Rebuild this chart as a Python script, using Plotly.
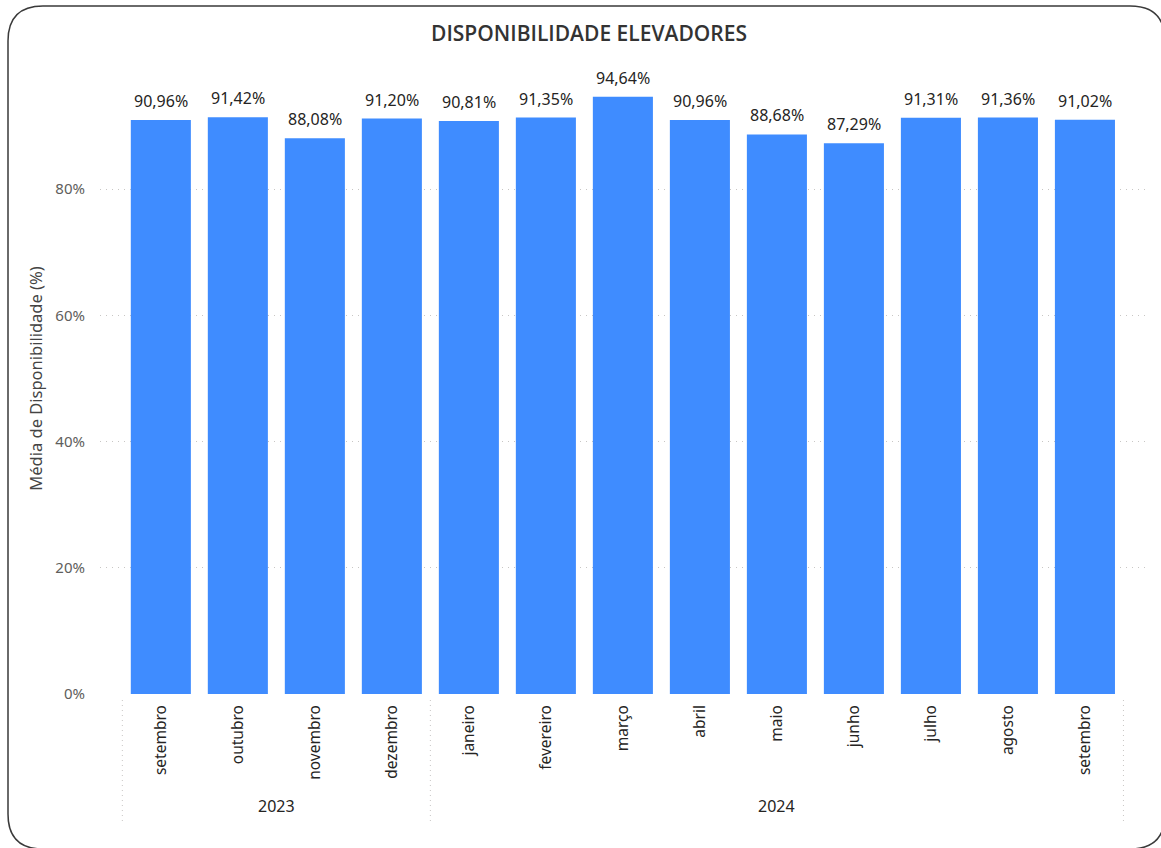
import plotly.graph_objects as go

months = ["setembro", "outubro", "novembro", "dezembro", "janeiro", "fevereiro",
          "março", "abril", "maio", "junho", "julho", "agosto", "setembro"]
years = ["2023", "2023", "2023", "2023", "2024", "2024", "2024", "2024",
         "2024", "2024", "2024", "2024", "2024"]
values = [90.96, 91.42, 88.08, 91.20, 90.81, 91.35, 94.64, 90.96,
          88.68, 87.29, 91.31, 91.36, 91.02]
y_ticks = [0, 20, 40, 60, 80]

W, H = 1161, 848
PL, PR, PT, PB = 100, 1145, 63, 694  # plot area in page pixels
L, T = PL, PT
pw, ph = PR - PL, PB - PT
R, B = W - L - pw, H - T - ph

FONT = "Segoe UI, Noto Sans, sans-serif"

def px_x(p):
    return (p - PL) / pw

def px_y(p):
    return (PB - p) / ph

xs = list(range(len(months)))
labels = [f"{v:.2f}".replace(".", ",") + "%" for v in values]

fig = go.Figure(go.Bar(
    x=xs, y=values,
    marker=dict(color="#3F8CFF", line=dict(width=0)),
    width=0.78, hoverinfo="x+y",
))

annotations = []
for xv, yv, lb in zip(xs, values, labels):
    annotations.append(dict(x=xv, y=yv, xref="x", yref="y", text=lb, showarrow=False,
                            yanchor="bottom", yshift=6,
                            font=dict(family=FONT, size=16, color="#252423")))

# year groups: separators and labels
groups = []
for i, yv in enumerate(years):
    if not groups or groups[-1][0] != yv:
        groups.append([yv, i, i])
    else:
        groups[-1][2] = i

sep_pos = [groups[0][1] - 0.5] + [g[2] + 0.5 for g in groups]
shapes = []
for sx in sep_pos:
    shapes.append(dict(type="line", xref="x", yref="paper", x0=sx, x1=sx,
                       y0=px_y(700), y1=px_y(822),
                       line=dict(color="#C8C6C4", width=1, dash="1px,4px")))
for g in groups:
    annotations.append(dict(x=(g[1] + g[2]) / 2, xref="x", y=px_y(806), yref="paper",
                            yanchor="middle", text=g[0], showarrow=False,
                            font=dict(family=FONT, size=16, color="#252423")))

# rounded border
x0, y0, x1, y1, r = 8, 6, 1165, 849, 35
def P(x, y):
    return f"{px_x(x)},{px_y(y)}"
path = (f"M {P(x0 + r, y0)} L {P(x1 - r, y0)} Q {P(x1, y0)} {P(x1, y0 + r)} "
        f"L {P(x1, y1 - r)} Q {P(x1, y1)} {P(x1 - r, y1)} "
        f"L {P(x0 + r, y1)} Q {P(x0, y1)} {P(x0, y1 - r)} "
        f"L {P(x0, y0 + r)} Q {P(x0, y0)} {P(x0 + r, y0)} Z")
shapes.append(dict(type="path", xref="paper", yref="paper", path=path,
                   line=dict(color="#3a3a3a", width=1.5)))

fig.update_layout(
    width=W, height=H,
    margin=dict(l=L, r=R, t=T, b=B),
    paper_bgcolor="white", plot_bgcolor="white",
    showlegend=False,
    title=dict(text="DISPONIBILIDADE ELEVADORES", x=px_x(589), xref="paper", xanchor="center",
               y=1 - 34 / H, yanchor="middle",
               font=dict(family="Open Sans, sans-serif", size=21, color="#333333", weight=600)),
    xaxis=dict(range=[-0.79, 12.78], tickmode="array", tickvals=xs, ticktext=months,
               tickangle=-90, showgrid=False, zeroline=False, showline=False,
               ticks="", ticklabelstandoff=7,
               tickfont=dict(family=FONT, size=15.5, color="#252423")),
    yaxis=dict(range=[0, 100], tickmode="array", tickvals=y_ticks,
               ticktext=[f"{t}%" for t in y_ticks],
               showgrid=True, gridcolor="#C8C6C4", griddash="1px,5px", gridwidth=1,
               zeroline=False, showline=False, ticks="", ticklabelstandoff=14,
               tickfont=dict(family=FONT, size=15, color="#605E5C"),
               title=dict(text="Média de Disponibilidade (%)", standoff=8,
                          font=dict(family=FONT, size=16.5, color="#444444"))),
    shapes=shapes,
    annotations=annotations,
)

fig.write_html("out.html", config={"displayModeBar": False},
               post_script="document.body.style.margin='0';document.body.style.overflow='hidden';")
